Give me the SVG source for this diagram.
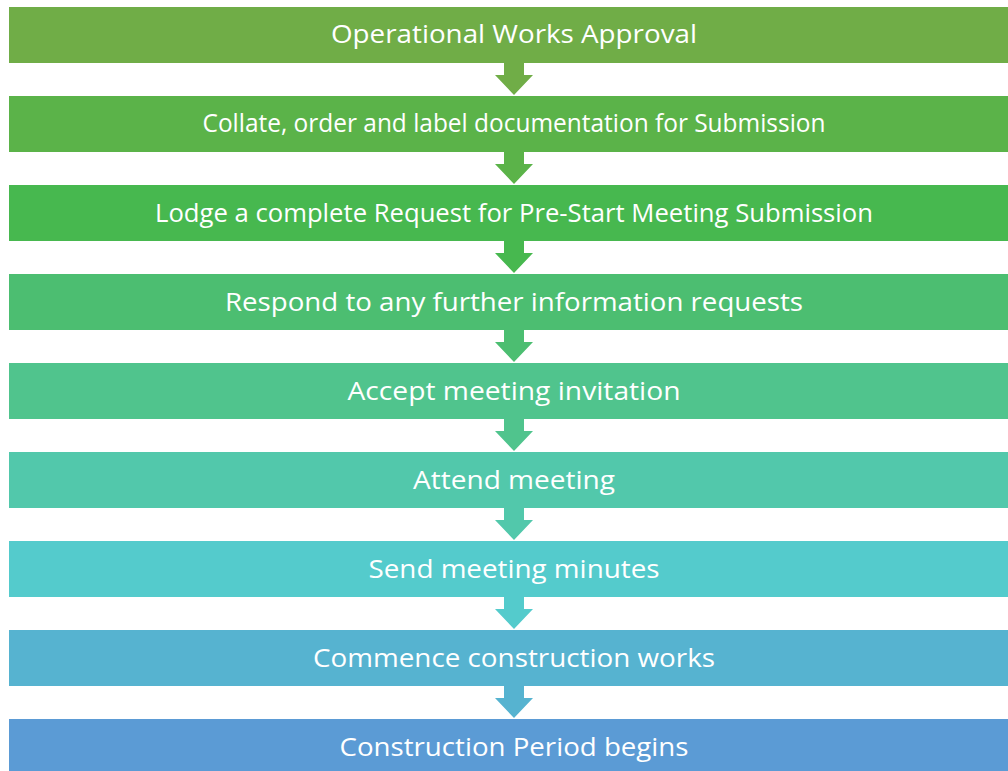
<svg xmlns="http://www.w3.org/2000/svg" width="1008" height="771" viewBox="0 0 1008 771">
  <style>
    .box { stroke: none; }
    .lbl { font-family: "Open Sans", "Liberation Sans", sans-serif; font-size: 25px; fill: #ffffff; text-anchor: middle; }
    .arr { stroke: none; }
  </style>
  <defs>
    <!-- down arrow: shaft 20 wide, head 38 wide -->
    <path id="down" d="M -10 0 L 10 0 L 10 12 L 19 12 L 0 32 L -19 12 L -10 12 Z"/>
  </defs>
  <rect width="1008" height="771" fill="#ffffff"/>

  <g id="connectors">
    <use href="#down" x="514" y="63" fill="#70AD47"/>
    <use href="#down" x="514" y="152" fill="#5BB349"/>
    <use href="#down" x="514" y="241" fill="#47B84F"/>
    <use href="#down" x="514" y="330" fill="#4CBE71"/>
    <use href="#down" x="514" y="419" fill="#50C48D"/>
    <use href="#down" x="514" y="508" fill="#52C8AB"/>
    <use href="#down" x="514" y="597" fill="#54CBCC"/>
    <use href="#down" x="514" y="686" fill="#56B3D0"/>
  </g>

  <g id="step1">
    <rect class="box" x="9" y="7" width="1010" height="56" fill="#70AD47"/>
    <text class="lbl" x="514" y="43" textLength="366" lengthAdjust="spacingAndGlyphs">Operational Works Approval</text>
  </g>
  <g id="step2">
    <rect class="box" x="9" y="96" width="1010" height="56" fill="#5BB349"/>
    <text class="lbl" x="514" y="132" font-size="23" textLength="623" lengthAdjust="spacingAndGlyphs">Collate, order and label documentation for Submission</text>
  </g>
  <g id="step3">
    <rect class="box" x="9" y="185" width="1010" height="56" fill="#47B84F"/>
    <text class="lbl" x="514" y="222" textLength="718" lengthAdjust="spacingAndGlyphs">Lodge a complete Request for Pre-Start Meeting Submission</text>
  </g>
  <g id="step4">
    <rect class="box" x="9" y="274" width="1010" height="56" fill="#4CBE71"/>
    <text class="lbl" x="514" y="311" textLength="578" lengthAdjust="spacingAndGlyphs">Respond to any further information requests</text>
  </g>
  <g id="step5">
    <rect class="box" x="9" y="363" width="1010" height="56" fill="#50C48D"/>
    <text class="lbl" x="514" y="400" textLength="333" lengthAdjust="spacingAndGlyphs">Accept meeting invitation</text>
  </g>
  <g id="step6">
    <rect class="box" x="9" y="452" width="1010" height="56" fill="#52C8AB"/>
    <text class="lbl" x="514" y="489" textLength="202" lengthAdjust="spacingAndGlyphs">Attend meeting</text>
  </g>
  <g id="step7">
    <rect class="box" x="9" y="541" width="1010" height="56" fill="#54CBCC"/>
    <text class="lbl" x="514" y="578" textLength="291" lengthAdjust="spacingAndGlyphs">Send meeting minutes</text>
  </g>
  <g id="step8">
    <rect class="box" x="9" y="630" width="1010" height="56" fill="#56B3D0"/>
    <text class="lbl" x="514" y="667" textLength="402" lengthAdjust="spacingAndGlyphs">Commence construction works</text>
  </g>
  <g id="step9">
    <rect class="box" x="9" y="719" width="1010" height="56" fill="#5B9BD5"/>
    <text class="lbl" x="514" y="756" textLength="349" lengthAdjust="spacingAndGlyphs">Construction Period begins</text>
  </g>
</svg>
